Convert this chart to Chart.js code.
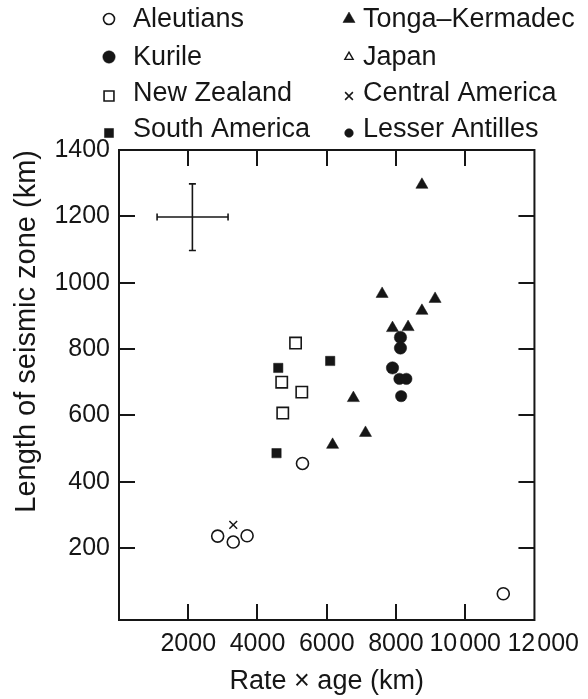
<!DOCTYPE html>
<html>
<head>
<meta charset="utf-8">
<script src="https://cdn.jsdelivr.net/npm/chart.js@4.4.1/dist/chart.umd.min.js"></script>
<style>
  html, body { margin: 0; padding: 0; background: #fff; }
</style>
</head>
<body>
<canvas id="seismicChart" width="588" height="699"></canvas>
<script>
// values (x = rate x age km, y = length of seismic zone km)
const aleutians = [{x: 5300, y: 455}, {x: 2850, y: 236}, {x: 3300, y: 218}, {x: 3700, y: 237}, {x: 11100, y: 62}];
const kurile = [{x: 8130, y: 835}, {x: 8130, y: 803}, {x: 7900, y: 743}];
const newZealand = [{x: 5100, y: 818}, {x: 4700, y: 700}, {x: 5280, y: 670}, {x: 4730, y: 607}];
const southAmerica = [{x: 4600, y: 743}, {x: 6100, y: 764}, {x: 4550, y: 486}];
const tongaKermadec = [{x: 8750, y: 1295}, {x: 7600, y: 966}, {x: 9130, y: 951}, {x: 8750, y: 915},
  {x: 7900, y: 863}, {x: 8350, y: 866}, {x: 6770, y: 652}, {x: 7120, y: 547}, {x: 6170, y: 511}];
const japan = [];
const centralAmerica = [{x: 3300, y: 270}];
const lesserAntilles = [{x: 8100, y: 710}, {x: 8300, y: 710}, {x: 8150, y: 658}];

// error cross in the upper left corner
const errorX = [{x: 1100, y: 1198}, {x: 3150, y: 1198}];
const errorY = [{x: 2120, y: 1097}, {x: 2120, y: 1298}];

const xTicks = [2000, 4000, 6000, 8000, 10000, 12000];
const xTickLabels = ['2000', '4000', '6000', '8000', '10\u200A000', '\u2002\u200912\u200A000'];
const yTicks = [200, 400, 600, 800, 1000, 1200, 1400];
const yTickLabels = ['200', '400', '600', '800', '1000', '1200', '1400'];

const ink = '#161616';
const fontFamily = '"Liberation Sans", Arial, sans-serif';

const sym = (label, data, style, radius, filled, extra) => Object.assign({
  label: label,
  data: data,
  pointStyle: style,
  pointRadius: radius,
  pointHoverRadius: radius,
  backgroundColor: filled ? ink : '#fff',
  borderColor: ink,
  borderWidth: filled ? 0.5 : 1.6,
  showLine: false
}, extra || {});

const errorBar = (data, rotation) => ({
  data: data,
  showLine: true,
  borderColor: ink,
  borderWidth: 1.6,
  pointStyle: 'line',
  pointRadius: 3.5,
  pointRotation: rotation,
  pointBorderColor: ink,
  pointBorderWidth: 1.6,
  noLegend: true
});

// two column legend drawn with the library's point drawer
const seismicLegend = {
  id: 'seismicLegend',
  afterDraw(chart) {
    const ctx = chart.ctx;
    const cols = [{sym: 109, text: 133}, {sym: 349, text: 363}];
    const symY = [19, 57, 96, 133];
    const baseY = [27, 65, 101, 137];
    let n = 0;
    chart.data.datasets.forEach(ds => {
      if (ds.noLegend) return;
      const col = cols[Math.floor(n / 4)];
      const row = n % 4;
      n++;
      ctx.save();
      ctx.fillStyle = ds.backgroundColor;
      ctx.strokeStyle = ds.borderColor;
      ctx.lineWidth = ds.borderWidth;
      Chart.helpers.drawPoint(ctx, {
        pointStyle: ds.pointStyle,
        radius: ds.legendRadius || ds.pointRadius,
        rotation: 0,
        borderWidth: ds.borderWidth
      }, col.sym, symY[row]);
      ctx.fillStyle = ink;
      ctx.font = '27px ' + fontFamily;
      ctx.textAlign = 'left';
      ctx.textBaseline = 'alphabetic';
      ctx.fillText(ds.label, col.text, baseY[row]);
      ctx.restore();
    });
  }
};

// box round the plot with inward ticks on all four sides
const frame = {
  id: 'frame',
  afterDraw(chart) {
    const {ctx, chartArea: a, scales: {x, y}} = chart;
    const len = 16;
    ctx.save();
    ctx.strokeStyle = ink;
    ctx.lineWidth = 2;
    ctx.beginPath();
    ctx.rect(a.left, a.top, a.right - a.left, a.bottom - a.top);
    xTicks.slice(0, -1).forEach(v => {
      const px = Math.round(x.getPixelForValue(v));
      ctx.moveTo(px, a.bottom);
      ctx.lineTo(px, a.bottom - len);
      ctx.moveTo(px, a.top);
      ctx.lineTo(px, a.top + len);
    });
    yTicks.slice(0, -1).forEach(v => {
      const py = Math.round(y.getPixelForValue(v));
      ctx.moveTo(a.left, py);
      ctx.lineTo(a.left + len, py);
      ctx.moveTo(a.right, py);
      ctx.lineTo(a.right - len, py);
    });
    ctx.stroke();
    ctx.restore();
  }
};

new Chart(document.getElementById('seismicChart').getContext('2d'), {
  type: 'scatter',
  data: {
    datasets: [
      sym('Aleutians', aleutians, 'circle', 6, false, {legendRadius: 5.5}),
      sym('Kurile', kurile, 'circle', 6.2, true),
      sym('New Zealand', newZealand, 'rect', 8, false, {legendRadius: 7}),
      sym('South America', southAmerica, 'rect', 6.6, true, {legendRadius: 6.4}),
      sym('Tonga\u2013Kermadec', tongaKermadec, 'triangle', 7, true),
      sym('Japan', japan, 'triangle', 6, false, {legendRadius: 4.8, borderWidth: 1.4}),
      sym('Central America', centralAmerica, 'crossRot', 5.5, false, {borderWidth: 1.5}),
      sym('Lesser Antilles', lesserAntilles, 'circle', 5.7, true, {legendRadius: 4.3}),
      errorBar(errorX, 90),
      errorBar(errorY, 0)
    ]
  },
  options: {
    responsive: false,
    animation: false,
    layout: {padding: {top: 150, right: 53, left: 0, bottom: 0}},
    plugins: {
      legend: {display: false},
      tooltip: {enabled: false}
    },
    scales: {
      x: {
        type: 'linear',
        min: 0,
        max: 12000,
        afterBuildTicks: scale => { scale.ticks = xTicks.map(v => ({value: v})); },
        afterFit: scale => { scale.height = 79; },
        grid: {display: false, drawTicks: false},
        border: {display: false},
        ticks: {
          autoSkip: false,
          maxRotation: 0,
          padding: 9,
          color: ink,
          font: {family: fontFamily, size: 25},
          callback: (v, i) => xTickLabels[i]
        },
        title: {
          display: true,
          text: 'Rate \u00d7 age (km)',
          color: ink,
          font: {family: fontFamily, size: 27},
          padding: {top: 0, bottom: 1}
        }
      },
      y: {
        type: 'linear',
        min: -17,
        max: 1400,
        afterBuildTicks: scale => { scale.ticks = yTicks.map(v => ({value: v})); },
        afterFit: scale => { scale.width = 119; },
        grid: {display: false, drawTicks: false},
        border: {display: false},
        ticks: {
          autoSkip: false,
          padding: 9,
          color: ink,
          font: {family: fontFamily, size: 25},
          callback: (v, i) => yTickLabels[i]
        },
        title: {
          display: true,
          text: 'Length of seismic zone (km)',
          align: 'end',
          color: ink,
          font: {family: fontFamily, size: 29},
          padding: {top: 10, bottom: 0}
        }
      }
    }
  },
  plugins: [frame, seismicLegend]
});
</script>
</body>
</html>
